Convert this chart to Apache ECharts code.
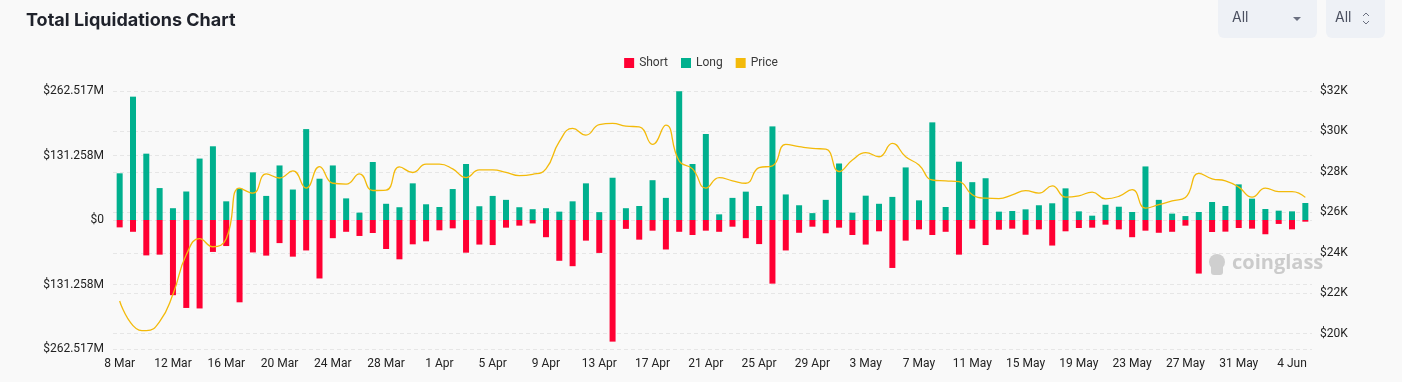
<!DOCTYPE html>
<html>
<head>
<meta charset="utf-8">
<script src="https://cdn.jsdelivr.net/npm/echarts@6/dist/echarts.min.js"></script>
<style>
  html, body { margin: 0; padding: 0; background: #f9f9f9; }
  #chart { width: 1402px; height: 382px; }
</style>
</head>
<body>
<div id="chart"></div>
<script>
const categories = [
  "8 Mar","9 Mar","10 Mar","11 Mar","12 Mar","13 Mar","14 Mar","15 Mar","16 Mar","17 Mar","18 Mar","19 Mar",
  "20 Mar","21 Mar","22 Mar","23 Mar","24 Mar","25 Mar","26 Mar","27 Mar","28 Mar","29 Mar","30 Mar","31 Mar",
  "1 Apr","2 Apr","3 Apr","4 Apr","5 Apr","6 Apr","7 Apr","8 Apr","9 Apr","10 Apr","11 Apr","12 Apr",
  "13 Apr","14 Apr","15 Apr","16 Apr","17 Apr","18 Apr","19 Apr","20 Apr","21 Apr","22 Apr","23 Apr","24 Apr",
  "25 Apr","26 Apr","27 Apr","28 Apr","29 Apr","30 Apr",
  "1 May","2 May","3 May","4 May","5 May","6 May","7 May","8 May","9 May","10 May","11 May","12 May",
  "13 May","14 May","15 May","16 May","17 May","18 May","19 May","20 May","21 May","22 May","23 May","24 May",
  "25 May","26 May","27 May","28 May","29 May","30 May","31 May",
  "1 Jun","2 Jun","3 Jun","4 Jun","5 Jun"
];

// Long liquidations, millions USD
const longM = [
  95, 251, 135, 65, 24, 58, 125, 150, 38, 64, 97, 49,
  111, 62, 185, 84, 111, 44, 15, 118, 33, 26, 74.6, 32,
  26.5, 63, 114, 28, 49, 41, 26, 22, 24, 17, 38, 74.6,
  16, 86, 24, 28.5, 81, 45, 262, 114, 175, 11.5, 45, 57.7,
  28.5, 190.5, 52, 30, 14, 41,
  115, 15, 49.5, 33, 47, 107, 40, 198.7, 26.5, 118.7, 77, 85,
  17, 18.3, 21.7, 30, 34, 64.4, 17.6, 8.8, 31, 27, 16.3, 109,
  41, 13, 8, 16.3, 36.6, 28.5, 72.5,
  43.4, 22.4, 19, 17.6, 34.6
];

// Short liquidations, millions USD (drawn below zero)
const shortM = [
  15, 24, 72, 70.5, 153, 179, 180, 65, 53, 167.5, 66, 72.5,
  47, 74.6, 62, 119, 37, 24, 32.5, 26.5, 59, 80, 49.5, 43.4,
  21, 17, 66.5, 50, 51, 15.6, 11.5, 7, 35, 83, 94, 42,
  67, 247.5, 18, 40, 21.7, 60, 24, 30.5, 21.7, 24, 13.6, 37,
  49, 129.5, 62, 26, 13.6, 27,
  15.6, 30.5, 50, 23, 97.6, 42, 19, 30.5, 24, 70.5, 17.6, 51,
  19.7, 17.6, 30, 19, 52, 23, 16.3, 15.6, 9.5, 19, 35, 21.7,
  26, 24, 11.5, 109, 24.4, 23.7, 16.3,
  17.6, 29, 8, 19, 3.4
];

// BTC price, thousands USD
const priceK = [
  21.62, 20.4, 20.15, 20.6, 21.95, 23.9, 24.7, 24.3, 24.7, 27.2, 26.95, 27.9,
  27.7, 28.05, 27.2, 28.26, 27.44, 27.4, 27.9, 27.08, 27.1, 28.25, 27.97, 28.38,
  28.38, 28.15, 27.72, 28.1, 28.1, 27.98, 27.82, 27.88, 28.15, 29.5, 30.15, 29.82,
  30.34, 30.4, 30.26, 30.23, 29.36, 30.31, 28.54, 28.15, 27.2, 27.72, 27.56, 27.44,
  28.21, 28.3, 29.36, 29.25, 29.16, 29.13,
  28.02, 28.59, 28.95, 28.75, 29.41, 28.75, 28.34, 27.6, 27.56, 27.52, 26.87, 26.7,
  26.68, 26.87, 27.07, 26.95, 27.31, 26.75, 26.82, 27.0, 26.67, 26.79, 27.12, 26.21,
  26.38, 26.57, 26.74, 27.93, 27.66, 27.56, 27.25,
  26.75, 27.2, 27.03, 27.03, 26.74
];

const leftMax = 262517000;
const priceTicks = [20000, 22000, 24000, 26000, 28000, 30000, 32000];

const longData = longM.map(v => v * 1e6);
const shortData = shortM.map(v => -v * 1e6);
const priceData = priceK.map(v => v * 1000);

const RED = '#ff0033';
const GREEN = '#00b08e';
const YELLOW = '#f3ba0a';
const FONT = 'Roboto, "Noto Sans", sans-serif';

function fmtM(v) {
  const a = Math.abs(v);
  if (a < 1) return '$0';
  const k = Math.floor(a / 1000 + 1e-6);
  return '$' + (k / 1000).toFixed(3) + 'M';
}

const chart = echarts.init(document.getElementById('chart'), null, { renderer: 'canvas' });
chart.setOption({
  backgroundColor: '#f9f9f9',
  animation: false,
  title: {
    text: 'Total Liquidations Chart',
    left: 21, top: 7,
    textStyle: { fontFamily: 'Inter, sans-serif', fontSize: 18, fontWeight: 700, color: '#1f222b' }
  },
  legend: {
    top: 52, left: 'center',
    itemWidth: 10, itemHeight: 10, itemGap: 13,
    icon: 'rect',
    textStyle: { fontFamily: FONT, fontSize: 12, color: '#3a3a3a' },
    data: ['Short', 'Long', 'Price']
  },
  grid: { left: 113, right: 90, top: 91, bottom: 33, containLabel: false },
  xAxis: {
    type: 'category',
    data: categories,
    boundaryGap: true,
    axisLine: { show: false },
    axisTick: { show: false },
    axisLabel: { interval: 3, color: '#222', fontFamily: FONT, fontSize: 12, margin: 9 },
    splitLine: { show: false }
  },
  yAxis: [
    {
      type: 'value',
      min: -leftMax, max: leftMax, interval: leftMax / 2,
      axisLine: { show: false }, axisTick: { show: false },
      axisLabel: { formatter: fmtM, color: '#222', fontFamily: FONT, fontSize: 12, margin: 9 },
      splitLine: { show: true, lineStyle: { type: [4, 3], color: '#e6e6e6' } }
    },
    {
      type: 'value',
      min: 19245, max: 32000,
      axisLine: { show: false },
      axisTick: { show: false, customValues: priceTicks },
      axisLabel: { customValues: priceTicks, formatter: v => '$' + Math.round(v / 1000) + 'K', color: '#222', fontFamily: FONT, fontSize: 12, margin: 8 },
      splitLine: { show: true, lineStyle: { type: [4, 3], color: '#e6e6e6' } }
    }
  ],
  series: [
    {
      name: 'Short', type: 'bar', stack: 'liq', data: shortData,
      barWidth: 6, itemStyle: { color: RED }
    },
    {
      name: 'Long', type: 'bar', stack: 'liq', data: longData,
      barWidth: 6, itemStyle: { color: GREEN }
    },
    {
      name: 'Price', type: 'line', yAxisIndex: 1, data: priceData,
      smooth: true, showSymbol: false, symbol: 'none',
      lineStyle: { color: YELLOW, width: 1.3 }, itemStyle: { color: YELLOW }, z: 5
    }
  ],
  graphic: [
    { type: 'rect', shape: { x: 1218, y: -6, width: 99, height: 44, r: 6 }, style: { fill: '#eef1f6' } },
    { type: 'text', left: 1232, top: 11, style: { text: 'All', font: '14px Inter, sans-serif', fill: '#4b5060' } },
    { type: 'polygon', shape: { points: [[1293, 17], [1301, 17], [1297, 21]] }, style: { fill: '#6b7080' } },
    { type: 'rect', shape: { x: 1326, y: -6, width: 59, height: 44, r: 6 }, style: { fill: '#eef1f6' } },
    { type: 'text', left: 1335, top: 11, style: { text: 'All', font: '14px Inter, sans-serif', fill: '#4b5060' } },
    { type: 'polyline', shape: { points: [[1363, 16], [1366, 13], [1369, 16]] }, style: { stroke: '#6b7080', lineWidth: 1, fill: null } },
    { type: 'polyline', shape: { points: [[1363, 21], [1366, 24], [1369, 21]] }, style: { stroke: '#6b7080', lineWidth: 1, fill: null } },
    { type: 'circle', shape: { cx: 1217, cy: 262, r: 8 }, style: { fill: '#cfcfcf' }, z: 0 },
    { type: 'rect', shape: { x: 1211, y: 264, width: 12, height: 11, r: 3 }, style: { fill: '#cfcfcf' }, z: 0 },
    { type: 'text', left: 1232, top: 253, style: { text: 'coinglass', font: 'bold 20px "Open Sans", sans-serif', fill: '#cbcbcb' }, z: 0 }
  ]
});
</script>
</body>
</html>
